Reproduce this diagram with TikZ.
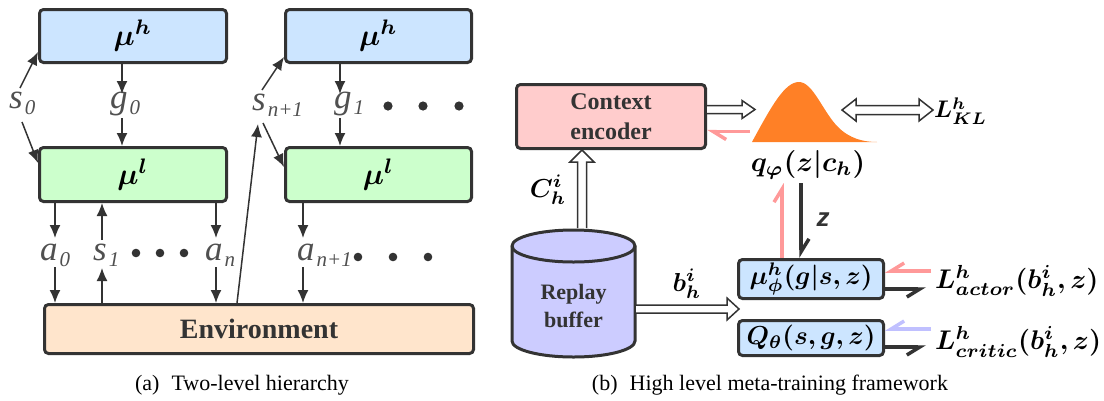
\documentclass[tikz,border=0pt]{standalone}
\usepackage{amsmath,bm,graphicx}
\usepackage{fontspec}
\setmainfont{Liberation Serif}
\setsansfont{Liberation Serif}
\newfontfamily\zfont{Liberation Sans}
\renewcommand{\familydefault}{\rmdefault}
\usetikzlibrary{arrows.meta,calc}
\definecolor{dk}{HTML}{333333}
\definecolor{lg}{HTML}{505050}
\definecolor{hblue}{HTML}{CCE5FF}
\definecolor{lgreen}{HTML}{CCFFCC}
\definecolor{envc}{HTML}{FFE5CC}
\definecolor{ctxc}{HTML}{FFCCCC}
\definecolor{rbc}{HTML}{CCCCFF}
\definecolor{orng}{HTML}{FF8026}
\definecolor{pk}{HTML}{FF9999}
\definecolor{bl}{HTML}{C0C0FF}
\newcommand{\lsym}[2]{{\rmfamily\fontsize{35}{35}\selectfont\itshape #1}\kern2pt\raisebox{-6pt}{\rmfamily\fontsize{21}{21}\selectfont\itshape #2}}
\newcommand{\mth}[2]{\scalebox{#1}{$\bm{#2}$}}
\begin{document}
\begin{tikzpicture}[x=1pt,y=1pt,
  box/.style={draw=dk, line width=3pt, rounded corners=4pt, inner sep=0pt},
  arr/.style={draw=dk, line width=1.5pt, -{Latex[length=13pt,width=11pt]}},
  lab/.style={inner sep=0pt, text=lg, anchor=base west},
  hp/.style={line width=3.5pt, -{Straight Barb[harpoon,length=13pt,width=16pt]}},
  hps/.style={line width=3.5pt, -{Straight Barb[harpoon,swap,length=13pt,width=16pt]}},
  hollow/.style={draw=dk, line width=1.5pt, fill=white, line join=miter},
  btxt/.style={font=\rmfamily\fontsize{24}{30}\selectfont\bfseries, text=dk, align=center},
  dot/.style={fill=dk}
]
\useasboundingbox (0,0) rectangle (1104,-400);

% ---------- (a) ----------
\node[box, fill=hblue, minimum width=187pt, minimum height=53pt] (mh1) at (133,-36) {\mth{3.0}{\mu^{h}}};
\node[box, fill=lgreen, minimum width=187pt, minimum height=54pt] (ml1) at (133,-174.5) {\mth{3.0}{\mu^{l}}};
\node[box, fill=hblue, minimum width=186pt, minimum height=53pt] (mh2) at (378.5,-36) {\mth{3.0}{\mu^{h}}};
\node[box, fill=lgreen, minimum width=186pt, minimum height=54pt] (ml2) at (378.5,-174.5) {\mth{3.0}{\mu^{l}}};
\node[box, fill=envc, minimum width=429pt, minimum height=49pt,
      font=\rmfamily\fontsize{28}{28}\selectfont\bfseries, text=dk] (env) at (259,-329) {Environment};

\node[lab] (s0) at (9,-108) {\lsym{s}{0}};
\node[lab] (g0) at (110,-108) {\lsym{g}{0}};
\node[lab] (sn1) at (252,-110) {\lsym{s}{n+1}};
\node[lab] (g1) at (334,-108) {\lsym{g}{1}};
\node[lab] (a0) at (40,-260) {\lsym{a}{0}};
\node[lab] (s1) at (93,-260) {\lsym{s}{1}};
\node[lab] (an) at (205,-260) {\lsym{a}{n}};
\node[lab] (an1) at (297,-260) {\lsym{a}{n+1}};

\coordinate (s0t) at (20,-88);
\coordinate (s0b) at (22,-122);
\coordinate (g0t) at (122,-94);
\coordinate (g0b) at (122,-118);
\coordinate (snt) at (262,-90);
\coordinate (snb) at (263,-123);
\coordinate (sntip) at (258,-124);
\coordinate (envx) at (237,-303);
\coordinate (g1t) at (340,-94);
\coordinate (g1b) at (340,-118);
\coordinate (a0t) at (55,-238);
\coordinate (a0b) at (55,-267);
\coordinate (s1t) at (102,-240);
\coordinate (s1b) at (102,-268);
\coordinate (ant) at (216,-238);
\coordinate (anb) at (216,-267);
\coordinate (a1t) at (303,-238);
\coordinate (a1b) at (303,-267);

\draw[arr] (s0t) -- ($(mh1.south west)+(0,12)$);
\draw[arr] (s0b) -- ($(ml1.north west)+(0,-17)$);
\draw[arr] (mh1.south -| g0t) -- (g0t);
\draw[arr] (g0b) -- (ml1.north -| g0b);
\draw[arr] (snt) -- ($(mh2.south west)+(0,7)$);
\draw[arr] (snb) -- ($(ml2.north west)+(0,-21)$);
\draw[arr] (env.north -| envx) -- (sntip);
\draw[arr] (mh2.south -| g1t) -- (g1t);
\draw[arr] (g1b) -- (ml2.north -| g1b);
\draw[arr] (ml1.south -| a0t) -- (a0t);
\draw[arr] (a0b) -- (env.north -| a0b);
\draw[arr] (env.north -| s1b) -- (s1b);
\draw[arr] (s1t) -- (ml1.south -| s1t);
\draw[arr] (ml1.south -| ant) -- (ant);
\draw[arr] (anb) -- (env.north -| anb);
\draw[arr] (ml2.south -| a1t) -- (a1t);
\draw[arr] (a1b) -- (env.north -| a1b);

\foreach \x in {388,423,459} \fill[dot] (\x,-106) circle (4.6);
\foreach \x in {136,160,184} \fill[dot] (\x,-253) circle (4.3);
\foreach \x in {358,393,428} \fill[dot] (\x,-257) circle (4.3);

\node[font=\rmfamily\fontsize{22}{22}\selectfont] (capa) at (242,-385) {(a)\hspace{0.55em}Two-level hierarchy};

% ---------- (b) ----------
\node[box, fill=ctxc, minimum width=189pt, minimum height=64pt, btxt] (ctx) at (611,-116.5) {Context\\encoder};
\node[box, fill=hblue, minimum width=145pt, minimum height=39pt] (mu) at (811,-279) {\mth{2.6}{\mu^{h}_{\phi}(g|s,z)}};
\node[box, fill=hblue, minimum width=145pt, minimum height=35pt] (Q) at (811,-338) {\mth{2.6}{Q_{\theta}(s,g,z)}};

% replay buffer cylinder
\filldraw[draw=dk, fill=rbc, line width=3pt]
  (512,-246) -- (512,-341) arc[start angle=180, end angle=360, x radius=61.5pt, y radius=16pt]
  -- (635,-246) arc[start angle=0, end angle=180, x radius=61.5pt, y radius=16pt] -- cycle;
\draw[draw=dk, line width=3pt] (512,-246) arc[start angle=180, end angle=360, x radius=61.5pt, y radius=16pt];
\node[font=\rmfamily\fontsize{22}{28}\selectfont\bfseries, text=dk, align=center] (rb) at (573.5,-306) {Replay\\buffer};

% bell curve
\fill[orng] (752,-142) .. controls (772,-105) and (785,-82) .. (799,-82)
  .. controls (813,-82) and (823,-112) .. (838,-127)
  .. controls (850,-139) and (864,-142) .. (877,-142) -- cycle;
\coordinate (bellL) at (755,-109.5);
\coordinate (bellR) at (842,-110);
\coordinate (bellpk) at (750,-131.5);

\node[inner sep=1pt] (q) at (808,-165) {\mth{2.8}{q_{\varphi}(z|c_h)}};
\node[inner sep=1pt, anchor=west] (LKL) at (933,-111) {\mth{2.4}{L^{h}_{KL}}};
\node[inner sep=1pt, anchor=west] (La) at (934,-281) {\mth{2.7}{L^{h}_{actor}(b^{i}_{h},z)}};
\node[inner sep=1pt, anchor=west] (Lc) at (934,-342) {\mth{2.7}{L^{h}_{critic}(b^{i}_{h},z)}};
\node[inner sep=1pt] (Chi) at (548,-190) {\mth{2.6}{C^{i}_{h}}};
\node[inner sep=1pt] (bhi) at (687,-284) {\mth{2.6}{b^{i}_{h}}};
\node[font=\zfont\bfseries\itshape\fontsize{26}{26}\selectfont, text=dk, inner sep=0pt] (zl) at (823,-220) {z};

% hollow arrow ctx -> bell
\draw[hollow] let \p1=(ctx.east |- bellL), \p2=(bellL) in
  (\x1,\y1+4pt) -- (\x2-13pt,\y1+4pt) -- (\x2-13pt,\y1+9pt) -- (\x2,\y1)
  -- (\x2-13pt,\y1-9pt) -- (\x2-13pt,\y1-4pt) -- (\x1,\y1-4pt);
% double hollow arrow bell <-> LKL
\draw[hollow] let \p1=(bellR), \p2=(LKL.west |- bellR) in
  (\x1,\y1) -- (\x1+14pt,\y1+11pt) -- (\x1+14pt,\y1+4.5pt) -- (\x2-14pt,\y1+4.5pt)
  -- (\x2-14pt,\y1+11pt) -- (\x2,\y1) -- (\x2-14pt,\y1-11pt) -- (\x2-14pt,\y1-4.5pt)
  -- (\x1+14pt,\y1-4.5pt) -- (\x1+14pt,\y1-11pt) -- cycle;
% hollow arrow replay buffer -> context encoder
\coordinate (rbtop) at (582,-228);
\draw[hollow] let \p1=(rbtop), \p2=(ctx.south -| rbtop) in
  (\x1-4.5pt,\y1) -- (\x1-4.5pt,\y2-12pt) -- (\x1-12pt,\y2-12pt) -- (\x1,\y2)
  -- (\x1+12pt,\y2-12pt) -- (\x1+4.5pt,\y2-12pt) -- (\x1+4.5pt,\y1);
% hollow arrow replay buffer -> actor/critic
\coordinate (rbR) at (636,-309);
\coordinate (gap) at (739,-309);
\draw[hollow] let \p1=(rbR), \p2=(gap) in
  (\x1,\y1+4pt) -- (\x2-12pt,\y1+4pt) -- (\x2-12pt,\y1+11pt) -- (\x2,\y1)
  -- (\x2-12pt,\y1-11pt) -- (\x2-12pt,\y1-4pt) -- (\x1,\y1-4pt);

% harpoons
\draw[hp, pk] (bellpk) -- (ctx.east |- bellpk);
\coordinate (qpk) at (782,-183);
\coordinate (qz) at (801,-183);
\draw[hp, pk] (mu.north -| qpk) -- (qpk);
\draw[hp, dk] (qz) -- (mu.north -| qz);
\coordinate (lapk) at (931,-271);
\coordinate (lad) at (926,-289);
\coordinate (lcb) at (931,-329);
\coordinate (lcd) at (926,-347);
\draw[hps, pk] (lapk) -- (mu.east |- lapk);
\draw[hps, dk] (mu.east |- lad) -- (lad);
\draw[hps, bl] (lcb) -- (Q.east |- lcb);
\draw[hps, dk] (Q.east |- lcd) -- (lcd);

\node[font=\rmfamily\fontsize{22}{22}\selectfont] (capb) at (770,-385) {(b)\hspace{0.55em}High level meta-training framework};
\end{tikzpicture}
\end{document}
